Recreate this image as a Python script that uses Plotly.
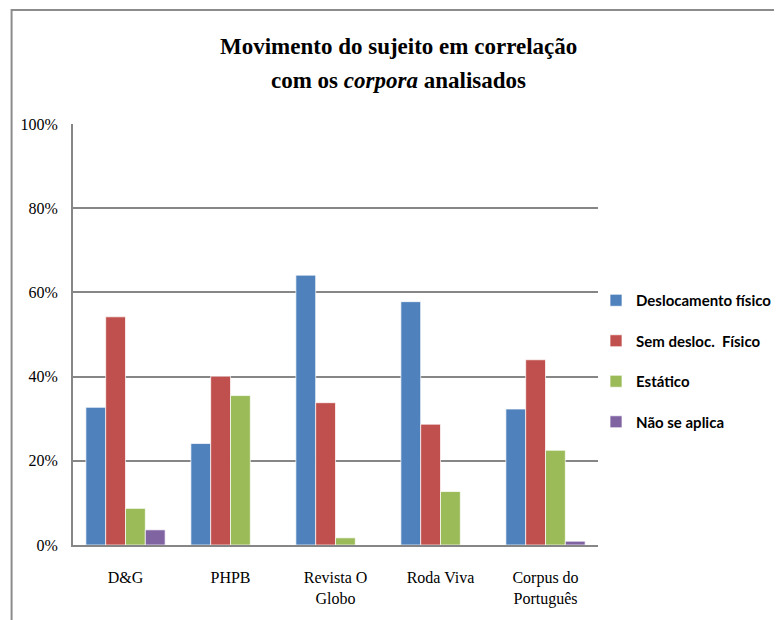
import plotly.graph_objects as go

categories = ["D&G", "PHPB", "Revista O Globo", "Roda Viva", "Corpus do Português"]
tick_labels = ["D&G", "PHPB", "Revista O<br>Globo", "Roda Viva", "Corpus do<br>Português"]
series_names = ["Deslocamento físico", "Sem desloc.  Físico", "Estático", "Não se aplica"]
deslocamento = [0.327, 0.241, 0.641, 0.578, 0.323]
sem_desloc = [0.542, 0.401, 0.338, 0.287, 0.440]
estatico = [0.087, 0.355, 0.017, 0.127, 0.225]
nao_se_aplica = [0.036, 0.0, 0.0, 0.0, 0.009]
y_ticks = [0, 0.2, 0.4, 0.6, 0.8, 1.0]
y_tick_labels = ["0%", "20%", "40%", "60%", "80%", "100%"]

colors = ["#4F81BD", "#C0504D", "#9BBB59", "#8064A2"]
values = [deslocamento, sem_desloc, estatico, nao_se_aplica]

fig = go.Figure()
for i, (name, vals) in enumerate(zip(series_names, values)):
    fig.add_trace(go.Bar(
        x=categories, y=vals, name=name,
        marker=dict(color=colors[i], line=dict(color="rgba(255,255,255,0.7)", width=1)),
        legendgroup=f"g{i}",
    ))

# page body has an 8px margin; work in target screen pixels and offset
OFF = 8
W, H = 782, 620
L, R, T, B = 68 - OFF, 598 - OFF, 124 - OFF, 545 - OFF
def px_x(px):
    return (px - OFF - L) / (R - L)
def px_y(py):
    return (B - (py - OFF)) / (B - T)

serif = "Liberation Serif, Times New Roman, serif"

fig.update_layout(
    width=W, height=H,
    margin=dict(l=L, r=W - R, t=T, b=H - B, pad=0),
    paper_bgcolor="white", plot_bgcolor="white",
    barmode="group", bargap=0.245, bargroupgap=0,
    showlegend=True,
    legend=dict(
        x=px_x(596), xanchor="left", y=px_y(284), yanchor="top",
        font=dict(family="Lato, Open Sans, sans-serif", size=15, color="black", weight="bold"),
        itemwidth=30, tracegroupgap=18, bgcolor="rgba(0,0,0,0)",
    ),
    font=dict(family=serif, color="black"),
    annotations=[
        dict(text="<b>Movimento do sujeito em correlação</b>", x=px_x(397), y=px_y(46),
             xref="paper", yref="paper", showarrow=False, xanchor="center", yanchor="middle",
             font=dict(family=serif, size=23, color="black")),
        dict(text="<b>com os <i>corpora</i> analisados</b>", x=px_x(397), y=px_y(80),
             xref="paper", yref="paper", showarrow=False, xanchor="center", yanchor="middle",
             font=dict(family=serif, size=23, color="black")),
    ],
    shapes=[
        dict(type="rect", xref="paper", yref="paper",
             x0=px_x(6), x1=px_x(800), y0=px_y(640), y1=px_y(10),
             line=dict(color="#8C8C8C", width=2), fillcolor="rgba(0,0,0,0)", layer="below"),
    ],
)

fig.update_xaxes(
    tickvals=categories, ticktext=tick_labels,
    showline=True, linecolor="#868686", linewidth=2,
    showgrid=False, ticks="", ticklabelstandoff=17,
    tickfont=dict(family=serif, size=16, color="black"),
)
fig.update_yaxes(
    range=[0, 1], tickvals=y_ticks, ticktext=y_tick_labels,
    showline=True, linecolor="#868686", linewidth=2,
    showgrid=True, gridcolor="#868686", gridwidth=1.5,
    zeroline=False, ticks="", ticklabelstandoff=10,
    tickfont=dict(family=serif, size=16, color="black"),
)

fig.write_html("out.html")
